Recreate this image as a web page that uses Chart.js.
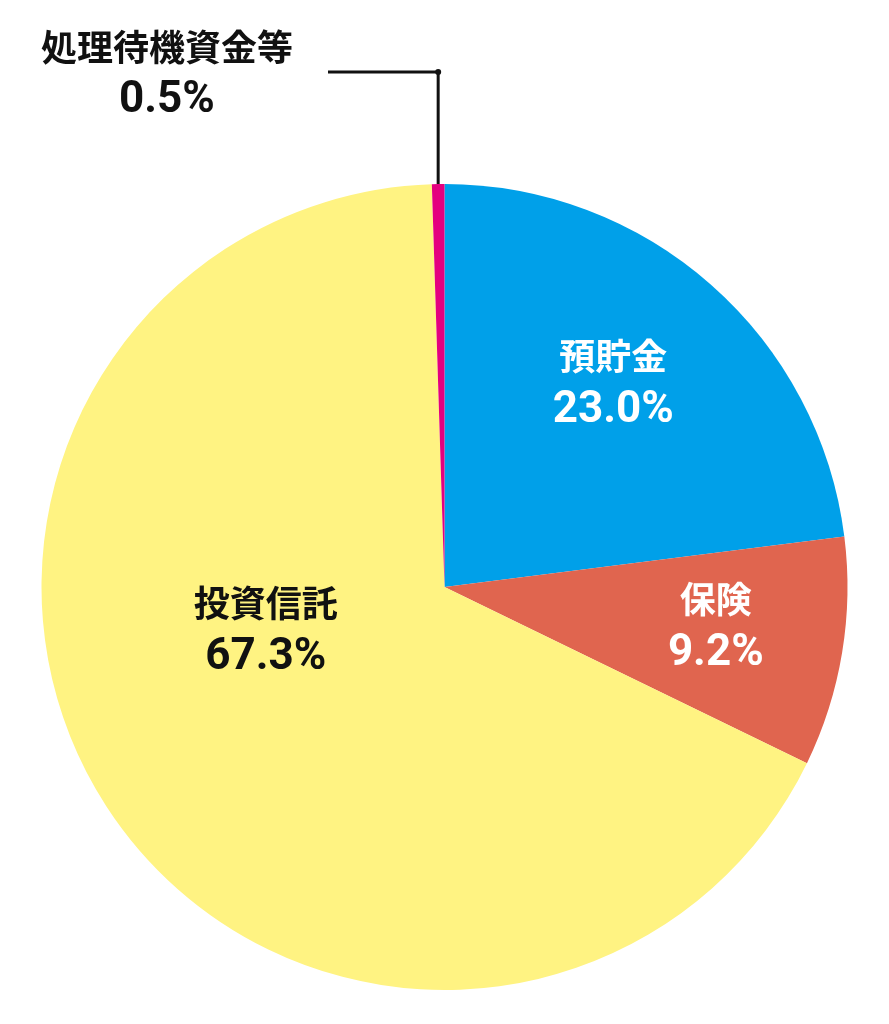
<!DOCTYPE html>
<html>
<head>
<meta charset="utf-8">
<script src="https://cdn.jsdelivr.net/npm/chart.js@4"></script>
<style>
html,body{margin:0;padding:0;background:#fff;}
#wrap{width:889px;height:1024px;}
</style>
</head>
<body>
<div id="wrap"><canvas id="c" width="889" height="1024"></canvas></div>
<script>
const categories = ['預貯金', '保険', '投資信託', '処理待機資金等'];
const shares = [23.0, 9.2, 67.3, 0.5];
const colors = ['#00A0E9', '#E0654F', '#FFF382', '#E4007F'];
const textColors = ['#ffffff', '#ffffff', '#111111', '#111111'];

// label placement: polar offset (angle shift in degrees, radius fraction) or 'outside'
const labelPlacement = [
  {mode: 'inside', dAngle: -1.8, rFrac: 0.657},
  {mode: 'inside', dAngle: -1.2, rFrac: 0.68},
  {mode: 'inside', dAngle: 19.4, rFrac: 0.456},
  {mode: 'outside', lineTopY: 72, lineLeftX: 328, textX: 167, textY1: 47, textY2: 101}
];

const cjkFont = '700 36px "Noto Sans CJK JP", "Noto Sans", sans-serif';
const numFont = '700 44px Roboto, "Noto Sans", sans-serif';

const labelPlugin = {
  id: 'sliceLabels',
  afterDatasetsDraw(chart) {
    const ctx = chart.ctx;
    const meta = chart.getDatasetMeta(0);
    meta.data.forEach((arc, i) => {
      const p = labelPlacement[i];
      const cx = arc.x, cy = arc.y, r = arc.outerRadius;
      const mid = (arc.startAngle + arc.endAngle) / 2;
      const pct = shares[i].toFixed(1) + '%';
      ctx.save();
      ctx.textAlign = 'center';
      ctx.textBaseline = 'middle';
      ctx.fillStyle = textColors[i];
      if (p.mode === 'inside') {
        const a = mid + p.dAngle * Math.PI / 180;
        const x = cx + Math.cos(a) * r * p.rFrac;
        const y = cy + Math.sin(a) * r * p.rFrac;
        ctx.font = cjkFont;
        ctx.fillText(categories[i], x, y - 27);
        ctx.font = numFont;
        ctx.fillText(pct, x, y + 28);
      } else {
        const ex = cx + Math.cos(mid) * r;
        const ey = cy + Math.sin(mid) * r;
        ctx.strokeStyle = '#111';
        ctx.lineWidth = 3;
        ctx.beginPath();
        ctx.moveTo(ex, ey);
        ctx.lineTo(ex, p.lineTopY);
        ctx.lineTo(p.lineLeftX, p.lineTopY);
        ctx.stroke();
        ctx.fillStyle = '#111';
        ctx.beginPath();
        ctx.arc(ex, p.lineTopY, 3, 0, Math.PI * 2);
        ctx.fill();
        ctx.font = cjkFont;
        ctx.fillText(categories[i], p.textX, p.textY1);
        ctx.font = numFont;
        ctx.fillText(pct, p.textX, p.textY2);
      }
      ctx.restore();
    });
  }
};

new Chart(document.getElementById('c'), {
  type: 'pie',
  data: {
    labels: categories,
    datasets: [{
      data: shares,
      backgroundColor: colors,
      borderWidth: 0
    }]
  },
  options: {
    responsive: false,
    animation: false,
    devicePixelRatio: 1,
    layout: {padding: {left: 41, right: 41, top: 184, bottom: 34}},
    plugins: {legend: {display: false}, tooltip: {enabled: false}}
  },
  plugins: [labelPlugin]
});
</script>
</body>
</html>
